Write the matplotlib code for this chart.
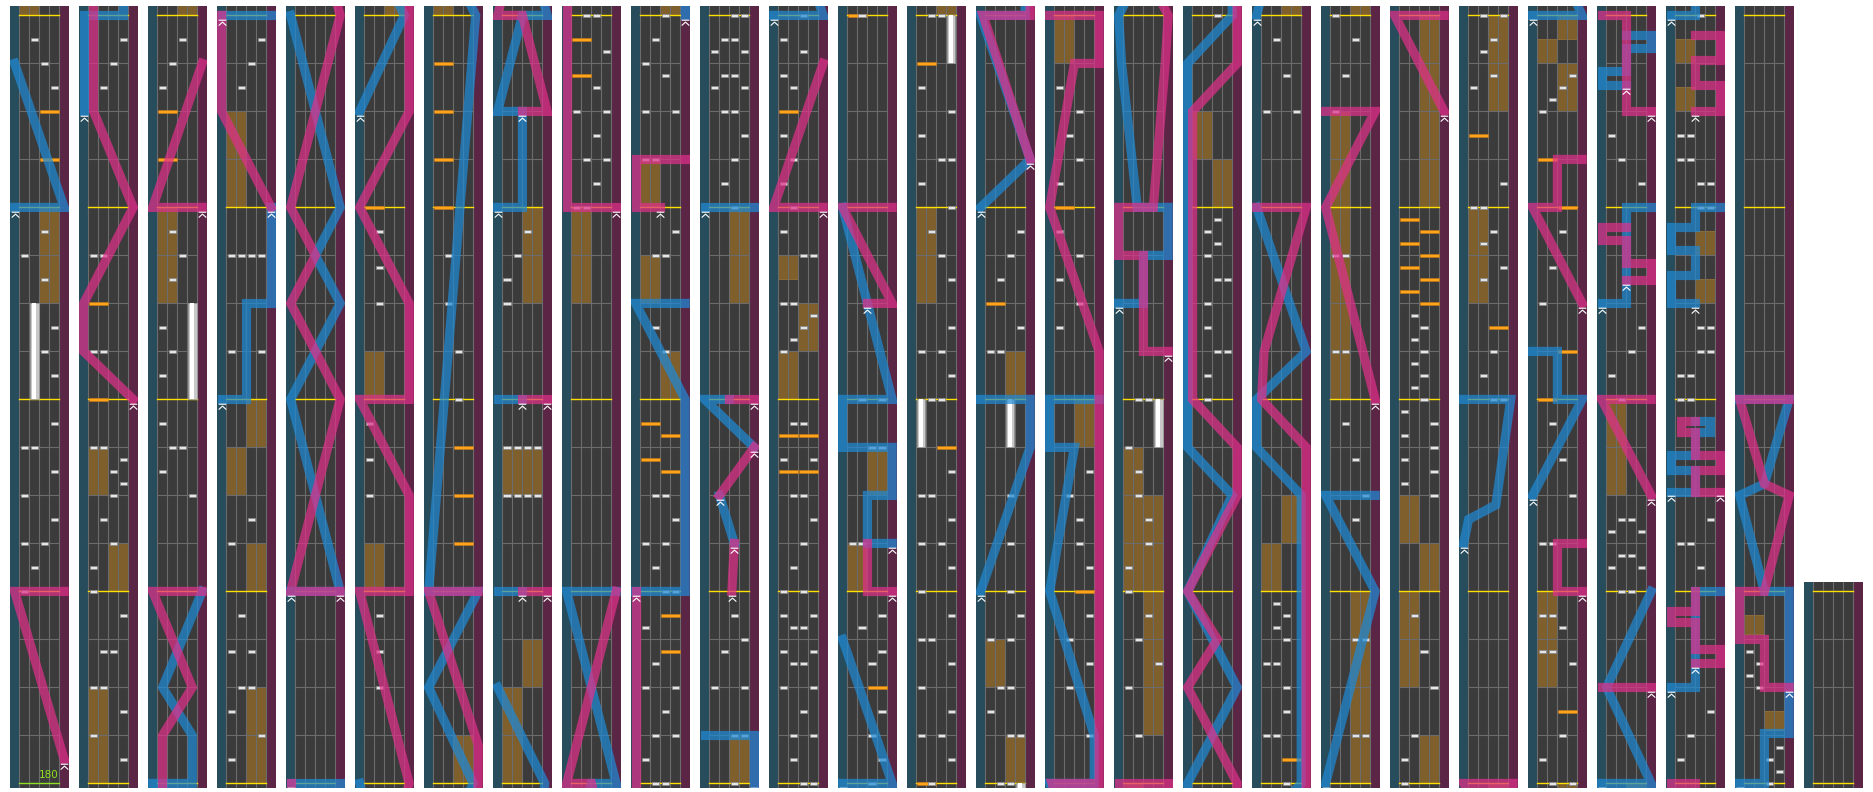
import matplotlib
matplotlib.use("Agg")
import matplotlib.pyplot as plt
from matplotlib.patches import Rectangle
from matplotlib.path import Path

# ---------------- chart data (time in measures, lanes 0-3, laser pos 0..1) ----------------
N_MEASURES = 105
BPM_MARKS = [(0.0, "180")]

bt_chips = [
    (1.0, 0), (1.125, 1), (1.25, 0), (1.25, 2), (1.375, 3), (1.5, 0), (1.625, 3), (1.75, 0), (1.75, 1), (1.875, 3),
    (2.125, 3), (2.25, 2), (2.375, 3), (2.625, 2), (2.75, 0), (2.875, 2), (3.625, 3), (3.75, 2), (3.875, 1),
    (4.125, 3), (4.25, 0), (4.375, 3), (4.5, 0), (4.5, 1), (4.6875, 1), (4.6875, 2), (4.875, 3),
    (5.0, 0), (5.125, 0), (5.25, 2), (5.375, 1), (5.5, 2), (5.5625, 3), (5.625, 2), (5.6875, 3), (5.75, 0), (5.75, 1),
    (6.25, 0), (6.25, 1), (6.75, 0), (6.75, 1), (7.625, 1), (7.75, 2), (7.875, 3),
    (9.5, 3), (9.625, 0), (9.75, 1), (9.75, 2), (9.875, 0),
    (10.125, 0), (10.25, 1), (10.375, 0), (10.625, 1), (10.75, 2), (10.875, 1), (11.625, 0), (11.75, 1), (11.875, 2),
    (12.125, 0), (12.25, 3), (12.375, 0), (12.5, 1), (12.5, 2), (12.6875, 0), (12.6875, 2), (12.875, 1),
    (13.25, 0), (13.375, 2), (14.25, 0), (14.25, 3), (14.75, 0), (14.75, 1), (14.75, 2), (14.75, 3),
    (15.625, 1), (15.75, 2), (15.875, 3),
    (20.5, 1), (20.6875, 1), (20.875, 1), (21.5, 0), (21.6875, 0), (21.875, 0), (22.5, 1), (22.6875, 1), (22.875, 1),
    (26.0, 2), (26.25, 2), (26.5, 1), (26.75, 1),
    (29.5, 0), (29.5, 1), (29.5, 2), (29.5, 3), (29.75, 0), (29.75, 1), (29.75, 2), (29.75, 3),
    (30.5, 0), (30.625, 0), (30.75, 1), (30.875, 2),
    (35.0, 0), (35.0, 1), (35.125, 2), (35.25, 1), (35.25, 3), (35.375, 2), (35.5, 0), (35.5, 3), (35.625, 2),
    (35.8125, 3), (36.0, 1), (36.0, 2),
    (36.125, 0), (36.25, 1), (36.25, 3), (36.375, 2), (36.5, 0), (36.5, 3), (36.625, 1), (36.8125, 0),
    (37.0, 2), (37.0, 3), (37.125, 1), (37.25, 0), (37.25, 2), (37.375, 3), (37.5, 1), (37.5, 2),
    (38.25, 2), (38.375, 1), (38.75, 1), (38.75, 2), (38.875, 3),
    (39.25, 0), (39.25, 1), (39.5, 0), (39.5, 3), (39.6875, 2), (39.75, 0), (39.875, 1),
    (40.0, 2), (40.25, 2), (40.25, 3), (40.5, 0), (40.5, 3), (40.6875, 1), (40.75, 3), (40.875, 2),
    (43.0, 2), (43.125, 1), (43.25, 2), (43.375, 3), (43.5, 1), (43.5, 2), (43.625, 0), (43.625, 3),
    (43.6875, 1), (43.6875, 2), (43.8125, 0), (43.8125, 3), (43.875, 1), (43.875, 2), (44.0, 2), (44.0, 3),
    (44.125, 1), (44.25, 1), (44.25, 3), (44.375, 2), (44.5, 0), (44.5, 3), (44.625, 1), (44.625, 2),
    (44.6875, 0), (44.6875, 3), (44.8125, 1), (44.8125, 2), (44.875, 0), (44.875, 3),
    (45.0, 0), (45.0, 2), (45.125, 1), (45.25, 2), (45.375, 3), (45.5, 1), (45.5, 2), (45.6875, 0), (45.6875, 3),
    (45.875, 1), (45.875, 2),
    (46.25, 0), (46.3125, 1), (46.375, 2), (46.4375, 3), (46.5, 0), (46.5, 1), (46.75, 2), (46.75, 3), (46.875, 0),
    (47.0, 1), (47.125, 0), (47.25, 1), (47.375, 0), (47.625, 1), (47.6875, 0), (47.8125, 2), (47.875, 0), (48.0, 2),
    (48.125, 3), (48.25, 2), (48.375, 3), (48.625, 2), (48.6875, 3), (48.8125, 1), (48.875, 3),
    (49.25, 0), (49.25, 1), (49.75, 2), (49.75, 3), (50.0, 1), (50.0, 3), (52.0, 1),
    (52.125, 3), (52.25, 0), (52.25, 2), (52.375, 3), (52.5, 0), (52.625, 3), (52.75, 0), (52.75, 1), (52.875, 3),
    (53.0, 0), (53.125, 3), (53.25, 0), (53.25, 2), (53.375, 3), (53.5, 0), (53.5, 1), (53.625, 3),
    (54.0, 1), (54.0, 2), (54.125, 3), (54.25, 0), (54.25, 2), (54.375, 3), (54.625, 3), (54.75, 2), (54.875, 1),
    (55.0, 3), (55.125, 0), (55.25, 2), (55.25, 3), (55.375, 0), (55.5, 3), (55.625, 0), (56.0, 1), (56.0, 2),
    (56.25, 2), (56.25, 3), (56.375, 0), (56.5, 1), (56.5, 2), (56.75, 0), (56.75, 2), (56.875, 3),
    (57.0, 2), (57.25, 2), (57.5, 2), (58.25, 0), (58.25, 1), (58.375, 3), (58.625, 1), (58.75, 2), (58.875, 3),
    (60.25, 3), (60.5, 1), (60.625, 3), (60.75, 1), (60.875, 3), (61.125, 3), (61.25, 2), (61.375, 2), (61.5, 1),
    (61.625, 3), (62.375, 0), (62.5, 2), (62.625, 0), (62.75, 2), (62.875, 0),
    (63.125, 0), (63.25, 2), (63.375, 1), (63.5, 2), (63.625, 0),
    (64.25, 1), (64.5, 0), (64.625, 3), (64.75, 1), (64.875, 2), (65.0, 0), (65.125, 0), (65.25, 2), (65.375, 2),
    (65.5, 1), (65.625, 1), (65.75, 0), (66.0, 1), (66.0, 2),
    (70.0, 1), (70.125, 1), (70.25, 2), (70.25, 3), (70.375, 1), (70.5, 1), (70.625, 2), (70.625, 3), (70.75, 1),
    (70.8125, 2), (70.875, 1), (70.9375, 2), (72.0, 2),
    (72.25, 0), (72.25, 1), (72.375, 2), (72.5, 2), (72.625, 0), (72.625, 1), (72.75, 2), (72.8125, 1),
    (72.875, 2), (72.9375, 1), (75.5, 0), (75.5, 3), (75.6875, 2), (75.875, 1),
    (76.25, 2), (76.25, 3), (76.75, 2), (76.75, 3), (77.375, 2), (77.5, 3), (77.6875, 2), (77.875, 1),
    (78.25, 0), (78.25, 1), (78.75, 0), (78.75, 1), (79.5, 0), (79.6875, 1), (79.875, 2), (80.0, 0),
    (80.125, 0), (80.25, 1), (80.5, 3), (80.6875, 2), (80.875, 1),
    (81.5, 3), (81.5625, 0), (81.625, 3), (81.6875, 0), (81.75, 3), (81.8125, 0), (81.875, 3), (81.9375, 0),
    (82.0, 2), (82.0625, 1), (82.125, 2), (82.1875, 1), (82.25, 2), (82.3125, 1), (82.375, 2), (82.4375, 1),
    (86.0, 2), (86.0, 3), (86.125, 1), (86.25, 2), (86.625, 1), (86.6875, 3), (86.8125, 1), (86.875, 2),
    (87.0, 0), (87.0, 1), (87.125, 3), (87.625, 0), (87.6875, 2), (87.8125, 1), (87.875, 2), (88.0, 1), (88.0, 3),
    (88.125, 0), (88.25, 2), (88.625, 3), (88.6875, 0), (88.6875, 1), (88.8125, 2), (88.875, 0), (88.875, 1),
    (89.25, 0), (89.25, 1), (89.5, 3), (89.6875, 2), (89.875, 1), (90.5, 0), (90.6875, 1), (90.875, 2),
    (91.5, 0), (91.5625, 1), (91.625, 2), (91.6875, 3),
    (93.0, 1), (93.0, 2), (93.125, 0), (93.125, 3), (93.1875, 1), (93.1875, 2), (93.3125, 0), (93.3125, 3),
    (93.375, 1), (93.375, 2), (94.0, 1), (94.125, 0), (94.25, 2), (94.375, 3), (95.125, 3), (95.25, 1), (95.375, 0),
    (96.125, 0), (96.25, 1), (96.375, 3), (97.125, 2), (97.25, 0), (97.25, 1), (97.375, 3),
    (98.0, 0), (98.0, 1), (98.125, 0), (98.125, 1), (98.25, 2), (98.25, 3), (98.375, 2), (98.375, 3),
    (99.0, 2), (99.0, 3), (99.125, 2), (99.125, 3), (99.25, 0), (99.25, 1), (99.375, 0), (99.375, 1), (100.0, 2),
    (100.0625, 3), (100.125, 2), (100.1875, 3), (100.5, 1), (100.5625, 0), (100.625, 1), (100.6875, 0),
]

# side 0 = FX-L (lanes 0-1), side 1 = FX-R (lanes 2-3)
fx_chips = [
    (3.25, 1), (3.5, 1), (6.0, 0), (6.5, 0), (11.25, 0), (11.5, 0), (23.0, 0),
    (25.25, 1), (25.5, 1), (25.75, 1), (27.0, 0), (27.25, 0), (27.5, 0), (27.75, 0),
    (35.6875, 0), (35.875, 0), (36.6875, 1), (36.875, 1), (37.625, 1), (37.6875, 0), (37.8125, 1), (37.875, 0),
    (45.625, 0), (45.625, 1), (45.8125, 0), (45.8125, 1), (47.5, 0), (48.5, 1), (52.0, 0),
    (53.75, 1), (55.75, 0), (58.5, 0), (61.0, 1), (63.0, 0), (72.125, 1),
    (82.5, 1), (82.5625, 0), (82.625, 1), (82.6875, 0), (82.75, 1), (82.8125, 0), (82.875, 1), (82.9375, 0),
    (86.375, 1), (87.375, 0), (88.375, 1), (90.0, 0), (90.25, 1), (91.0, 1), (91.25, 0),
]

bt_holds = [(2.0, 2.5, 1), (10.0, 10.5, 3), (53.75, 54.0, 0), (55.75, 56.0, 3), (57.75, 58.0, 2), (65.75, 66.0, 3)]

fx_holds = [
    (2.5, 3.0, 1), (4.0, 4.5, 0), (5.0, 5.25, 1), (5.5, 5.75, 0), (10.5, 11.0, 0), (12.0, 12.5, 1),
    (13.0, 13.25, 1), (13.5, 13.75, 0), (13.75, 14.0, 1), (15.0, 15.5, 0),
    (21.0, 21.25, 0), (22.0, 22.25, 0), (24.0, 24.25, 1), (28.0, 28.5, 0), (28.5, 28.75, 1),
    (29.5, 29.75, 0), (29.5, 29.75, 1), (30.5, 31.0, 1), (34.5, 35.0, 0),
    (38.0, 38.25, 1), (38.5, 38.75, 0), (39.0, 39.25, 0), (40.0, 40.25, 1), (42.5, 43.0, 1),
    (46.0, 46.25, 0), (46.25, 46.5, 1), (46.625, 46.75, 0), (49.0, 49.25, 0), (49.5, 49.75, 1),
    (54.5, 55.0, 0), (56.0, 56.25, 1), (56.5, 56.75, 0), (58.0, 58.25, 1), (61.75, 62.0, 1), (63.75, 64.0, 0),
    (64.25, 65.5, 1), (65.0, 65.75, 0), (71.0, 71.25, 1), (71.25, 71.5, 0), (73.0, 73.25, 0), (73.25, 73.5, 1),
    (76.0, 77.0, 1), (78.0, 79.5, 0), (80.0, 80.25, 1), (80.5, 81.0, 0), (81.0, 81.25, 1), (81.25, 81.5, 0),
    (83.0, 84.0, 1), (86.5, 87.0, 0), (87.5, 88.0, 1), (88.5, 89.0, 0), (91.5, 91.75, 1), (91.75, 91.875, 0),
    (91.875, 92.0, 1), (93.5, 94.0, 0), (98.5, 98.625, 1), (98.75, 98.875, 1), (99.5, 99.625, 0),
    (99.75, 99.875, 0), (100.28, 100.375, 1), (100.78, 100.875, 0),
]

blue_lasers = [
    [(3.0, 0), (3.0, 1), (3.75, 0)],
    [(7.5, 0), (8.0, 0), (8.0, 0.8), (8.25, 0.8), (8.5, 0.2), (9.0, 1)],
    [(14.0, 0), (14.0, 0.5), (14.5, 0.5), (14.5, 1), (15.0, 1)],
    [(16.0, 0), (16.0, 1)],
    [(17.0, 0), (17.0, 1), (18.0, 0), (18.5, 1), (18.75, 0.5), (19.0, 1), (20.0, 0)],
    [(23.5, 0), (24.0, 0.9), (24.5, 0), (25.0, 1), (25.0, 0), (28.0, 0.95), (28.5, 0)],
    [(29.0, 0.5), (29.0, 0)],
    [(30.0, 0.5), (30.0, 0)],
    [(31.0, 0), (31.0, 0.5), (31.5, 0.5), (31.5, 0), (32.0, 0.5), (32.0, 1), (33.0, 0), (33.0, 1)],
    [(37.0, 0), (37.0, 1), (38.0, 1), (38.5, 0), (38.5, 1)],
    [(40.0, 1), (40.25, 1), (40.25, 0)],
    [(41.25, 0.6), (41.5, 0.3)],
    [(41.75, 1), (42.0, 0), (42.0, 0.5)],
    [(43.0, 0), (43.0, 1)],
    [(48.0, 0), (48.0, 1), (48.75, 0)],
    [(49.25, 1), (49.25, 0.5), (49.5, 0.5), (49.5, 1), (49.75, 1), (49.75, 0), (50.0, 0), (50.0, 1), (51.0, 0)],
    [(57.0, 0), (57.75, 1), (58.0, 1), (58.0, 0)],
    [(59.0, 0), (59.25, 1), (60.0, 0), (60.0, 0.9), (60.25, 0.9), (61.0, 0), (61.75, 0.5), (61.75, 0),
     (62.0, 0), (62.0, 1)],
    [(66.5, 0), (66.5, 0.5), (66.75, 0.5), (66.75, 1), (67.0, 1), (67.0, 0.375), (67.75, 0.06), (68.0, 0),
     (68.5, 1), (69.0, 0), (69.5, 0.9), (69.75, 0), (71.75, 0), (72.0, 0.9), (73.5, 0.9), (73.75, 0),
     (74.0, 0), (74.25, 1), (75.0, 0)],
    [(76.0, 0), (77.0, 1), (77.5, 0), (77.5, 1)],
    [(85.25, 0), (85.375, 0.1), (85.45, 0.65), (86.0, 0.95), (86.0, 0)],
    [(89.5, 0), (90.0, 1), (90.0, 0.5), (90.25, 0.5), (90.25, 0)],
    [(92.0, 0), (92.0, 1), (92.5, 0.1), (93.0, 1)],
    [(94.5, 0), (94.5, 0.5), (95.0, 0.5), (95.0, 1)],
    [(95.64, 0.5), (95.64, 0), (95.71, 0), (95.71, 0.5), (95.83, 0.5), (95.83, 1), (95.9, 1), (95.9, 0.5)],
    [(96.5, 0), (96.5, 0.5), (97.0, 0.5), (97.0, 1)],
    [(97.52, 0), (97.52, 0.5), (97.63, 0.5), (97.63, 0), (97.71, 0), (97.71, 0.5), (97.83, 0.5), (97.83, 0.8),
     (97.89, 0.8), (97.89, 0.5)],
    [(98.5, 0.5), (98.5, 0), (98.65, 0), (98.65, 0.5), (98.78, 0.5), (98.78, 0), (98.9, 0), (98.9, 0.5),
     (99.0, 0.5), (99.0, 1)],
    [(100.0, 0), (100.0, 0.5), (100.26, 0.5), (100.26, 1), (101.0, 1), (101.0, 0.5), (101.5, 0),
     (101.56, 0.5), (102.0, 1), (102.0, 0)],
]

pink_lasers = [
    [(0.125, 1), (1.0, 0), (1.0, 1)],
    [(6.0, 1), (6.25, 0), (6.5, 0), (7.0, 1), (7.5, 0.2), (8.25, 0.2), (8.5, 0.8), (9.0, 0), (9.0, 1)],
    [(11.0, 1), (11.0, 0), (11.75, 1)],
    [(15.0, 1), (15.5, 0), (16.0, 0)],
    [(17.0, 1), (17.0, 0), (18.0, 1), (18.5, 0), (18.75, 0.5), (19.0, 0), (20.0, 1), (21.0, 0), (21.0, 1),
     (21.5, 1), (22.0, 0), (22.0, 1), (22.5, 1), (23.0, 0), (23.5, 1), (24.2, 1), (25.0, 0), (25.0, 1)],
    [(29.0, 1), (29.0, 0.5)],
    [(30.0, 1), (30.0, 0.5)],
    [(31.5, 0.5), (31.5, 1), (32.0, 0.5), (32.0, 0), (33.0, 1)],
    [(35.0, 1), (35.0, 0), (37.0, 0)],
    [(39.0, 0.5), (39.0, 0), (39.25, 0), (39.25, 1)],
    [(41.0, 0.55), (41.25, 0.6)],
    [(41.5, 0.3), (41.75, 1)],
    [(42.0, 1), (42.0, 0.5)],
    [(47.0, 1), (47.0, 0), (47.75, 1)],
    [(49.0, 1), (49.0, 0.5), (49.25, 0.5)],
    [(50.5, 0.5), (50.5, 1), (51.0, 0), (51.0, 1)],
    [(59.25, 1), (60.0, 0.05), (60.0, 1), (62.25, 1), (63.0, 0), (63.75, 0.5), (63.75, 1), (64.0, 1), (64.0, 0)],
    [(66.25, 1), (66.25, 0.5), (66.75, 0.5), (66.75, 0), (67.0, 0), (67.0, 0.7), (67.75, 0.94), (68.0, 1),
     (68.5, 0), (68.75, 0.6), (69.0, 0), (69.5, 1), (69.75, 1), (70.0, 0.1), (71.5, 0.1), (71.75, 1),
     (73.75, 1), (74.0, 0.1), (74.25, 0.15), (75.0, 1), (75.0, 0)],
    [(78.0, 1), (79.0, 0), (79.5, 1), (79.5, 0)],
    [(83.5, 1), (84.0, 0), (84.0, 1)],
    [(89.0, 1), (89.0, 0.5), (89.25, 0.5), (89.25, 1)],
    [(90.5, 1), (91.0, 0), (91.0, 0.5), (91.25, 0.5), (91.25, 1)],
    [(92.5, 1), (92.5, 0)],
    [(93.5, 1), (94.0, 0), (94.0, 1)],
    [(94.62, 0.5), (94.62, 1), (94.71, 1), (94.71, 0.5), (94.83, 0.5), (94.83, 0), (94.9, 0), (94.9, 0.5)],
    [(95.5, 1), (95.5, 0.5), (96.0, 0.5), (96.0, 0)],
    [(96.625, 0.5), (96.625, 1), (96.7, 1), (96.7, 0.5), (96.84, 0.5), (96.84, 0), (96.9, 0), (96.9, 0.5),
     (97.0, 0.5)],
    [(97.52, 1), (97.52, 0.5), (97.63, 0.5), (97.63, 1), (97.71, 1), (97.71, 0.5), (97.83, 0.5), (97.83, 0.2),
     (97.89, 0.2), (97.89, 0.5)],
    [(99.5, 0.5), (99.5, 1), (99.64, 1), (99.64, 0.5), (99.77, 0.5), (99.77, 1), (99.9, 1), (99.9, 0.5)],
    [(100.5, 1), (100.5, 0.5), (100.75, 0.5), (100.75, 0), (101.0, 0), (101.0, 0.5), (101.5, 1),
     (101.56, 0.5), (102.0, 0), (102.0, 1)],
]

# ---------------- styling ----------------
LANE_BG = "#3b3b3b"
L_STRIP = "#274c5b"
R_STRIP = "#5b2646"
GRID = "#6c6c6c"
BAR = "#ffe000"
BPM_COL = "#8fe020"
BLUE = "#1f8ad6"
PINK = "#e0308a"
FXHOLD = "#7f5f2c"
FXCHIP = "#ffa41c"

W, H = 1873, 792
PX_PER_MEASURE = 192.0
XL, XR = -0.93, 4.97
PER_COL = 4
PAD_LO, PAD_HI = 0.024, 0.047


def laser_x(p):
    return -0.465 + p * 4.95


chev = Path([(-1, 0.6), (1, 0.6), (-1, -0.8), (0, 0.1), (1, -0.8)],
            [Path.MOVETO, Path.LINETO, Path.MOVETO, Path.LINETO, Path.LINETO])

fig = plt.figure(figsize=(W / 100, H / 100), dpi=100)
fig.patch.set_facecolor("white")

ncols = (N_MEASURES + PER_COL - 1) // PER_COL
for c in range(ncols):
    t0 = c * PER_COL
    t1 = min(t0 + PER_COL, N_MEASURES)
    lo, hi = t0 - PAD_LO, t1 + PAD_HI
    hpx = (hi - lo) * PX_PER_MEASURE
    left = 10 + 69 * c
    ax = fig.add_axes([left / W, 4 / H, 59 / W, hpx / H])
    ax.set_xlim(XL, XR)
    ax.set_ylim(lo, hi)
    ax.axis("off")

    def vis(a, b):
        return b >= lo - 0.1 and a <= hi + 0.1

    ax.add_patch(Rectangle((0, lo), 4, hi - lo, fc=LANE_BG, ec="none", zorder=0))
    ax.add_patch(Rectangle((XL, lo), -XL, hi - lo, fc=L_STRIP, ec="none", zorder=0))
    ax.add_patch(Rectangle((4, lo), XR - 4, hi - lo, fc=R_STRIP, ec="none", zorder=0))

    for (a, b, s) in fx_holds:
        if vis(a, b):
            ax.add_patch(Rectangle((2 * s, a), 2, b - a, fc=FXHOLD, ec="#94703a", lw=0.6, zorder=1))

    # grid
    for x in range(5):
        ax.plot([x, x], [lo, hi], color=GRID, lw=0.8, zorder=2)
    k = int(lo * 4) - 1
    while k / 4 <= hi:
        y = k / 4
        if lo <= y <= hi and k % 4 != 0:
            ax.plot([0, 4], [y, y], color=GRID, lw=0.8, zorder=2)
        k += 1
    for m in range(t0, t1 + 1):
        col = BPM_COL if any(abs(m - bt) < 1e-9 for bt, _ in BPM_MARKS) else BAR
        ax.plot([0, 4], [m, m], color=col, lw=1.0, zorder=3)
    for (bt, label) in BPM_MARKS:
        if vis(bt, bt):
            ax.text(3.95, bt + 0.02, label, color=BPM_COL, ha="right", va="bottom",
                    fontsize=7.5, zorder=9)

    for (a, b, ln) in bt_holds:
        if vis(a, b):
            ax.add_patch(Rectangle((ln + 0.08, a), 0.84, b - a, fc="#c8c8c8", ec="#9a9a9a", lw=0.5, zorder=4))
            ax.add_patch(Rectangle((ln + 0.3, a), 0.4, b - a, fc="#ffffff", ec="none", zorder=4))

    for (t, s) in fx_chips:
        if vis(t, t):
            ax.add_patch(Rectangle((2 * s + 0.06, t - 0.009), 1.88, 0.018, fc=FXCHIP, ec="#c87a10",
                                   lw=0.4, zorder=5))
    for (t, ln) in bt_chips:
        if vis(t, t):
            ax.add_patch(Rectangle((ln + 0.12, t - 0.008), 0.76, 0.016, fc="#e6e6e6", ec="#8a8a8a",
                                   lw=0.6, zorder=5))

    for lasers, color, z in ((blue_lasers, BLUE, 6), (pink_lasers, PINK, 7)):
        for sec in lasers:
            ts = [p[0] for p in sec]
            if not vis(min(ts), max(ts)):
                continue
            xs = [laser_x(p[1]) for p in sec]
            ax.plot(xs, ts, color=color, lw=6.6, alpha=0.72, solid_joinstyle="miter",
                    solid_capstyle="projecting", zorder=z)
            ax.plot([xs[0]], [ts[0] - 0.035], marker=chev, ms=5.5, mec="white", mew=0.8,
                    mfc="none", ls="none", zorder=8)

fig.savefig("out.png", dpi=100, facecolor="white")
